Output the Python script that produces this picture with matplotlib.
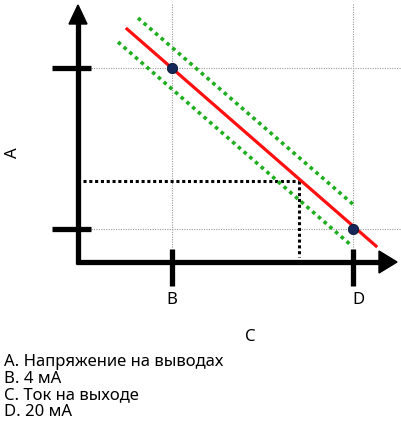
import matplotlib
matplotlib.use('Agg')
import matplotlib.pyplot as plt

# everything in pixel units of the 402x435 picture (y grows downward)
axis_origin = (78, 263)
y_axis_top = 24
x_axis_end = 380
tick_y = [69, 230]           # voltage tick rows
tick_x = [172, 353]          # B = 4 mA, D = 20 mA
point_x = [172, 353]
point_y = [69, 230]
red_x = [127, 376]
red_y = [30, 247]
green_hi_x = [138, 355]
green_hi_y = [19, 207]
green_lo_x = [118, 352]
green_lo_y = [43, 247]
read_x = 299
read_y = 182
tick_labels = ["B", "D"]
legend_lines = ["A. Напряжение на выводах", "B. 4 мА", "C. Ток на выходе", "D. 20 мА"]

plt.rcParams['font.family'] = ['Noto Sans', 'DejaVu Sans']

fig = plt.figure(figsize=(4.02, 4.35), dpi=100)
ax = fig.add_axes([0, 0, 1, 1])
ax.set_xlim(0, 402)
ax.set_ylim(435, 0)
ax.axis('off')

grey = dict(color='#9a9a9a', lw=0.8, ls=(0, (1, 1.2)), zorder=1)
for x in tick_x:
    ax.plot([x, x], [5, 250], **grey)
for y in tick_y:
    ax.plot([91, 402], [y, y], **grey)

# reading lines
ax.plot([83, read_x], [read_y, read_y], color='black', lw=2.2, ls=(0, (1, 0.9)), zorder=2)
ax.plot([read_x, read_x], [read_y, 258], color='black', lw=2.2, ls=(0, (1, 0.9)), zorder=2)

# axes
ox, oy = axis_origin
ax.plot([ox, ox], [oy + 2, y_axis_top], color='black', lw=3.8, solid_capstyle='butt', zorder=3)
ax.plot([ox - 2, x_axis_end], [oy, oy], color='black', lw=3.8, solid_capstyle='butt', zorder=3)
ax.fill([ox - 9, ox + 9, ox], [y_axis_top + 1, y_axis_top + 1, 6], color='black', zorder=3)
ax.fill([x_axis_end - 1, x_axis_end - 1, 397], [oy - 11, oy + 11, oy], color='black', zorder=3)

for y in tick_y:
    ax.plot([52, 91], [y, y], color='black', lw=3.8, solid_capstyle='butt', zorder=3)
for x in tick_x:
    ax.plot([x, x], [250, 287], color='black', lw=3.8, solid_capstyle='butt', zorder=3)

# tolerance band and output line
green = dict(color='#1fae1f', lw=2.6, ls=(0, (1, 1.1)), zorder=4)
ax.plot(green_hi_x, green_hi_y, **green)
ax.plot(green_lo_x, green_lo_y, **green)
ax.plot(red_x, red_y, color='#ff1010', lw=2.3, zorder=5)
ax.scatter(point_x, point_y, s=55, color='#14285a', edgecolors='#0a1530', linewidths=0.6, zorder=6)

fs = 12
ax.text(13, 153, "A", rotation=90, ha='center', va='center', fontsize=fs)
for x, lab in zip(tick_x, tick_labels):
    ax.text(x + (5 if lab == "D" else 0), 300, lab, ha='center', va='center', fontsize=fs)
ax.text(250, 337, "C", ha='center', va='center', fontsize=fs)
for i, line in enumerate(legend_lines):
    ax.text(4, 362 + i * 16.6, line, ha='left', va='center', fontsize=fs)

fig.savefig('out.png', dpi=100)
